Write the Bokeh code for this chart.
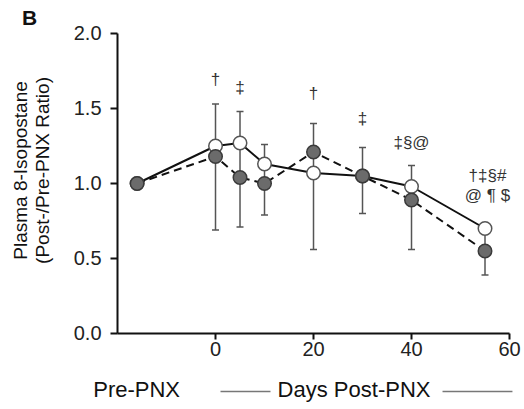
import math
from bokeh.plotting import figure
from bokeh.models import (Range1d, FixedTicker, NumeralTickFormatter, Whisker,
                          TeeHead, ColumnDataSource)
from bokeh.core.properties import value
from bokeh.embed import file_html
from bokeh.resources import INLINE

# ---- data ----
days = [-16, 0, 5, 10, 20, 30, 40, 55]
open_vals = [1.0, 1.25, 1.27, 1.13, 1.07, 1.05, 0.98, 0.70]
filled_vals = [1.0, 1.18, 1.04, 1.00, 1.21, 1.05, 0.89, 0.55]

err_days = [0, 5, 10, 20, 30, 40, 55]
err_upper = [1.53, 1.48, 1.26, 1.40, 1.24, 1.12, 0.72]
err_lower = [0.69, 0.71, 0.79, 0.56, 0.80, 0.56, 0.39]

sig_days = [0, 5, 20, 30, 40, 55.5, 55.5]
sig_text = ["†", "‡", "†", "‡", "‡§@", "†‡§#", "@ ¶ $"]
sig_y = [1.69, 1.64, 1.60, 1.43, 1.27, 1.05, 0.92]

x_ticks = [0, 20, 40, 60]
y_ticks = [0.0, 0.5, 1.0, 1.5, 2.0]
x_captions = ["Pre-PNX", "Days Post-PNX"]
y_title = ["Plasma 8-Isopostane", "(Post-/Pre-PNX Ratio)"]

FONT = "Liberation Sans"

p = figure(width=524, height=409, output_backend="svg", toolbar_location=None,
           x_range=Range1d(-43.88, 63.06), y_range=Range1d(-0.5067, 2.22),
           min_border_left=0, min_border_right=0, min_border_top=0,
           min_border_bottom=0)
p.outline_line_color = None
p.xgrid.visible = False
p.ygrid.visible = False
p.background_fill_color = "white"
p.border_fill_color = "white"

for ax in (p.xaxis[0], p.yaxis[0]):
    ax.axis_line_width = 2
    ax.axis_line_color = "#111111"
    ax.major_tick_line_width = 2
    ax.major_tick_line_color = "#111111"
    ax.minor_tick_line_color = None
    ax.major_tick_in = 0
    ax.major_label_text_font = FONT
    ax.major_label_text_font_size = "20px"
    ax.major_label_text_color = "#222222"

p.xaxis.ticker = FixedTicker(ticks=x_ticks)
p.xaxis.bounds = (-20, 60)
p.xaxis.fixed_location = 0
p.xaxis.major_tick_out = 6
p.xaxis.major_label_standoff = 3
p.yaxis.ticker = FixedTicker(ticks=y_ticks)
p.yaxis.bounds = (0, 2)
p.yaxis.fixed_location = -20
p.yaxis.formatter = NumeralTickFormatter(format="0.0")
p.yaxis.major_tick_out = 7
p.yaxis.major_label_standoff = 9

# lines
p.line(days, open_vals, line_color="#111111", line_width=2)
p.line(days, filled_vals, line_color="#111111", line_width=2, line_dash="8 5")

# error bars
esrc = ColumnDataSource(dict(x=err_days, upper=err_upper, lower=err_lower))
p.add_layout(Whisker(source=esrc, base="x", upper="upper", lower="lower",
                     line_color="#555555", line_width=1.5,
                     upper_head=TeeHead(size=7, line_color="#555555", line_width=1.5),
                     lower_head=TeeHead(size=7, line_color="#555555", line_width=1.5)))

# markers
p.scatter(days, open_vals, size=13.5, fill_color="white", line_color="#555555", line_width=1.5)
p.scatter(days, filled_vals, size=13.5, fill_color="#6b6b6b", line_color="#3a3a3a", line_width=1.5)

# significance marks
p.text(sig_days, sig_y, text=sig_text, text_font=value(FONT), text_font_size="17px",
       text_color="#333333", text_align="center", text_baseline="middle")

# panel letter
p.text([-37.96], [2.107], text=["B"], text_font=value(FONT), text_font_size="21px",
       text_font_style="bold", text_align="center", text_baseline="middle",
       text_color="#111111")

# y-axis title (two lines)
p.text([-39.8, -35.3], [1.087, 1.087], text=y_title, angle=math.pi / 2,
       text_font=value(FONT), text_font_size="19px", text_align="center",
       text_baseline="middle", text_color="#111111")

# x-axis captions and rules
p.text([-16.1, 28.27], [-0.373, -0.373], text=x_captions, text_font=value(FONT),
       text_font_size="22px", text_align="center", text_baseline="middle",
       text_color="#111111")
p.segment(x0=[1.02, 46.33], y0=[-0.387, -0.387], x1=[11.22, 60.6], y1=[-0.387, -0.387],
          line_color="#777777", line_width=1.5)

open("out.html", "w").write(file_html(p, INLINE))
